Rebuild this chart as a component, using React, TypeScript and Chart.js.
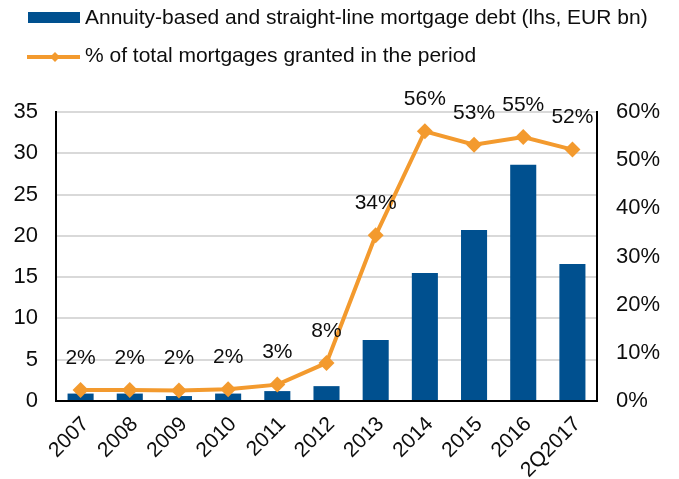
import React, { useEffect, useRef } from "react";
import { Chart, registerables } from "chart.js";

Chart.register(...registerables);

const categories = ["2007", "2008", "2009", "2010", "2011", "2012", "2013", "2014", "2015", "2016", "2Q2017"];
const debtValues = [0.9, 0.9, 0.6, 0.9, 1.2, 1.8, 7.4, 15.5, 20.7, 28.6, 16.6];
const shareValues = [2.3, 2.3, 2.2, 2.45, 3.4, 7.9, 34.4, 56.0, 53.2, 54.8, 52.2];
const leftTicks = [0, 5, 10, 15, 20, 25, 30, 35];
const rightTicks = [0, 10, 20, 30, 40, 50, 60];
const barLabel = "Annuity-based and straight-line mortgage debt (lhs, EUR bn)";
const lineLabel = "% of total mortgages granted in the period";

const BLUE = "#00508F";
const ORANGE = "#F39A2E";
const TEXT = "#0d0d0d";
const FONT = "'Liberation Sans', Arial, sans-serif";
const FS = 22;
const LABEL_FS = 21;
const LEG_FS = 21;

const App: React.FC = () => {
  const ref = useRef<HTMLCanvasElement | null>(null);

  useEffect(() => {
    if (!ref.current) return;

    const labelPlugin = {
      id: "pointLabels",
      afterDatasetsDraw(chart: any) {
        const ctx = chart.ctx;
        const meta = chart.getDatasetMeta(1);
        ctx.save();
        ctx.font = `${LABEL_FS}px ${FONT}`;
        ctx.fillStyle = TEXT;
        ctx.textAlign = "center";
        ctx.textBaseline = "middle";
        meta.data.forEach((pt: any, i: number) => {
          ctx.fillText(Math.round(shareValues[i]) + "%", pt.x, pt.y - 32);
        });
        ctx.restore();
      },
    };

    const xLabelPlugin = {
      id: "xLabels",
      afterDraw(chart: any) {
        const ctx = chart.ctx;
        const xs = chart.scales.x;
        const bottom = chart.chartArea.bottom;
        ctx.save();
        ctx.font = `${LABEL_FS}px ${FONT}`;
        ctx.fillStyle = TEXT;
        ctx.textAlign = "right";
        ctx.textBaseline = "middle";
        categories.forEach((c, i) => {
          const x = xs.getPixelForValue(i);
          ctx.save();
          ctx.translate(x + 5, bottom + 20);
          ctx.rotate(-Math.PI / 4);
          ctx.fillText(c, 0, 0);
          ctx.restore();
        });
        ctx.restore();
      },
    };

    const legendPlugin = {
      id: "customLegend",
      afterDraw(chart: any) {
        const ctx = chart.ctx;
        ctx.save();
        ctx.font = `${LEG_FS}px ${FONT}`;
        ctx.textBaseline = "middle";
        ctx.textAlign = "left";
        ctx.fillStyle = BLUE;
        ctx.fillRect(28, 12, 52, 11);
        ctx.fillStyle = TEXT;
        ctx.fillText(barLabel, 85, 18);
        ctx.strokeStyle = ORANGE;
        ctx.lineWidth = 4;
        ctx.beginPath();
        ctx.moveTo(27, 57);
        ctx.lineTo(80, 57);
        ctx.stroke();
        ctx.fillStyle = ORANGE;
        ctx.beginPath();
        ctx.moveTo(55, 52);
        ctx.lineTo(60, 57);
        ctx.lineTo(55, 62);
        ctx.lineTo(50, 57);
        ctx.closePath();
        ctx.fill();
        ctx.fillStyle = TEXT;
        ctx.fillText(lineLabel, 85, 56);
        ctx.restore();
      },
    };

    const chart = new Chart(ref.current, {
      type: "bar",
      data: {
        labels: categories,
        datasets: [
          {
            type: "bar",
            label: barLabel,
            data: debtValues,
            backgroundColor: BLUE,
            borderWidth: 0,
            yAxisID: "y",
            order: 1,
            barPercentage: 0.53,
            categoryPercentage: 1,
          },
          {
            type: "line",
            label: lineLabel,
            data: shareValues,
            borderColor: ORANGE,
            backgroundColor: ORANGE,
            borderWidth: 4,
            pointStyle: "rectRot",
            pointRadius: 8,
            pointHoverRadius: 8,
            pointBorderWidth: 0,
            tension: 0,
            yAxisID: "y1",
            order: 0,
          } as any,
        ],
      },
      options: {
        animation: false,
        responsive: false,
        maintainAspectRatio: false,
        events: [],
        layout: { padding: { top: 112, left: 0, right: 0, bottom: 0 } },
        plugins: {
          legend: { display: false },
          tooltip: { enabled: false },
        },
        scales: {
          x: {
            offset: true,
            grid: { display: false, drawTicks: false },
            border: { display: true, color: "#000", width: 2 },
            ticks: { display: false },
            afterFit(scale: any) {
              scale.height = 78;
            },
          },
          y: {
            position: "left",
            min: 0,
            max: 35,
            afterBuildTicks(scale: any) {
              scale.ticks = leftTicks.map((v) => ({ value: v }));
            },
            grid: { color: "#D9D9D9", lineWidth: 2, drawTicks: false },
            border: { display: true, color: "#000", width: 2 },
            ticks: {
              color: TEXT,
              font: { family: FONT, size: FS },
              padding: 18,
            },
            afterFit(scale: any) {
              scale.width = 56;
            },
          },
          y1: {
            position: "right",
            min: 0,
            max: 60,
            afterBuildTicks(scale: any) {
              scale.ticks = rightTicks.map((v) => ({ value: v }));
            },
            grid: { display: false, drawTicks: false },
            border: { display: true, color: "#000", width: 2 },
            ticks: {
              color: TEXT,
              font: { family: FONT, size: FS },
              padding: 19,
              callback: (v: any) => v + "%",
            },
            afterFit(scale: any) {
              scale.width = 82;
            },
          },
        },
      },
      plugins: [labelPlugin, xLabelPlugin, legendPlugin],
    });

    return () => chart.destroy();
  }, []);

  return (
    <div style={{ position: "fixed", left: 0, top: 0, width: 679, height: 479, background: "#fff" }}>
      <canvas ref={ref} width={679} height={479} style={{ display: "block" }} />
    </div>
  );
};

export default App;
